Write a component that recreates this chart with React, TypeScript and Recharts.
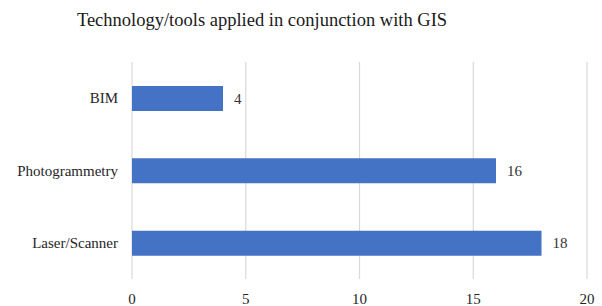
import React from 'react';
import { BarChart, Bar, XAxis, YAxis, CartesianGrid, LabelList } from 'recharts';

const categories = ['BIM', 'Photogrammetry', 'Laser/Scanner'];
const counts = [4, 16, 18];
const xTicks = [0, 5, 10, 15, 20];

const data = categories.map((name, i) => ({ name, count: counts[i] }));

const FONT = "'Liberation Serif'";

export default function App() {
  return (
    <div style={{ position: 'absolute', left: 0, top: 0, width: 602, height: 306, background: '#fff', fontFamily: FONT }}>
      <div
        style={{
          position: 'absolute',
          left: 0,
          width: 524,
          top: 8,
          textAlign: 'center',
          fontSize: 18.5,
          color: '#1a1a1a',
          lineHeight: '24px',
          fontFamily: FONT,
        }}
      >
        Technology/tools applied in conjunction with GIS
      </div>
      <BarChart
        width={602}
        height={306}
        data={data}
        layout="vertical"
        margin={{ top: 62, right: 15, bottom: 0, left: 12 }}
        barSize={25}
        style={{ fontFamily: FONT }}
      >
        <CartesianGrid horizontal={false} stroke="#d9d9d9" strokeWidth={1.2} />
        <XAxis
          type="number"
          domain={[0, 20]}
          ticks={xTicks}
          axisLine={false}
          tickLine={false}
          tickSize={0}
          tickMargin={14}
          height={27}
          tick={{ fontSize: 15, fill: '#262626', fontFamily: FONT }}
        />
        <YAxis
          type="category"
          dataKey="name"
          width={120}
          axisLine={false}
          tickLine={false}
          tickSize={0}
          tickMargin={14}
          tick={{ fontSize: 15, fill: '#262626', fontFamily: FONT }}
        />
        <Bar dataKey="count" fill="#4472C4" isAnimationActive={false}>
          <LabelList dataKey="count" position="right" offset={11} fill="#333333" fontSize={15} fontFamily={FONT} />
        </Bar>
      </BarChart>
    </div>
  );
}
